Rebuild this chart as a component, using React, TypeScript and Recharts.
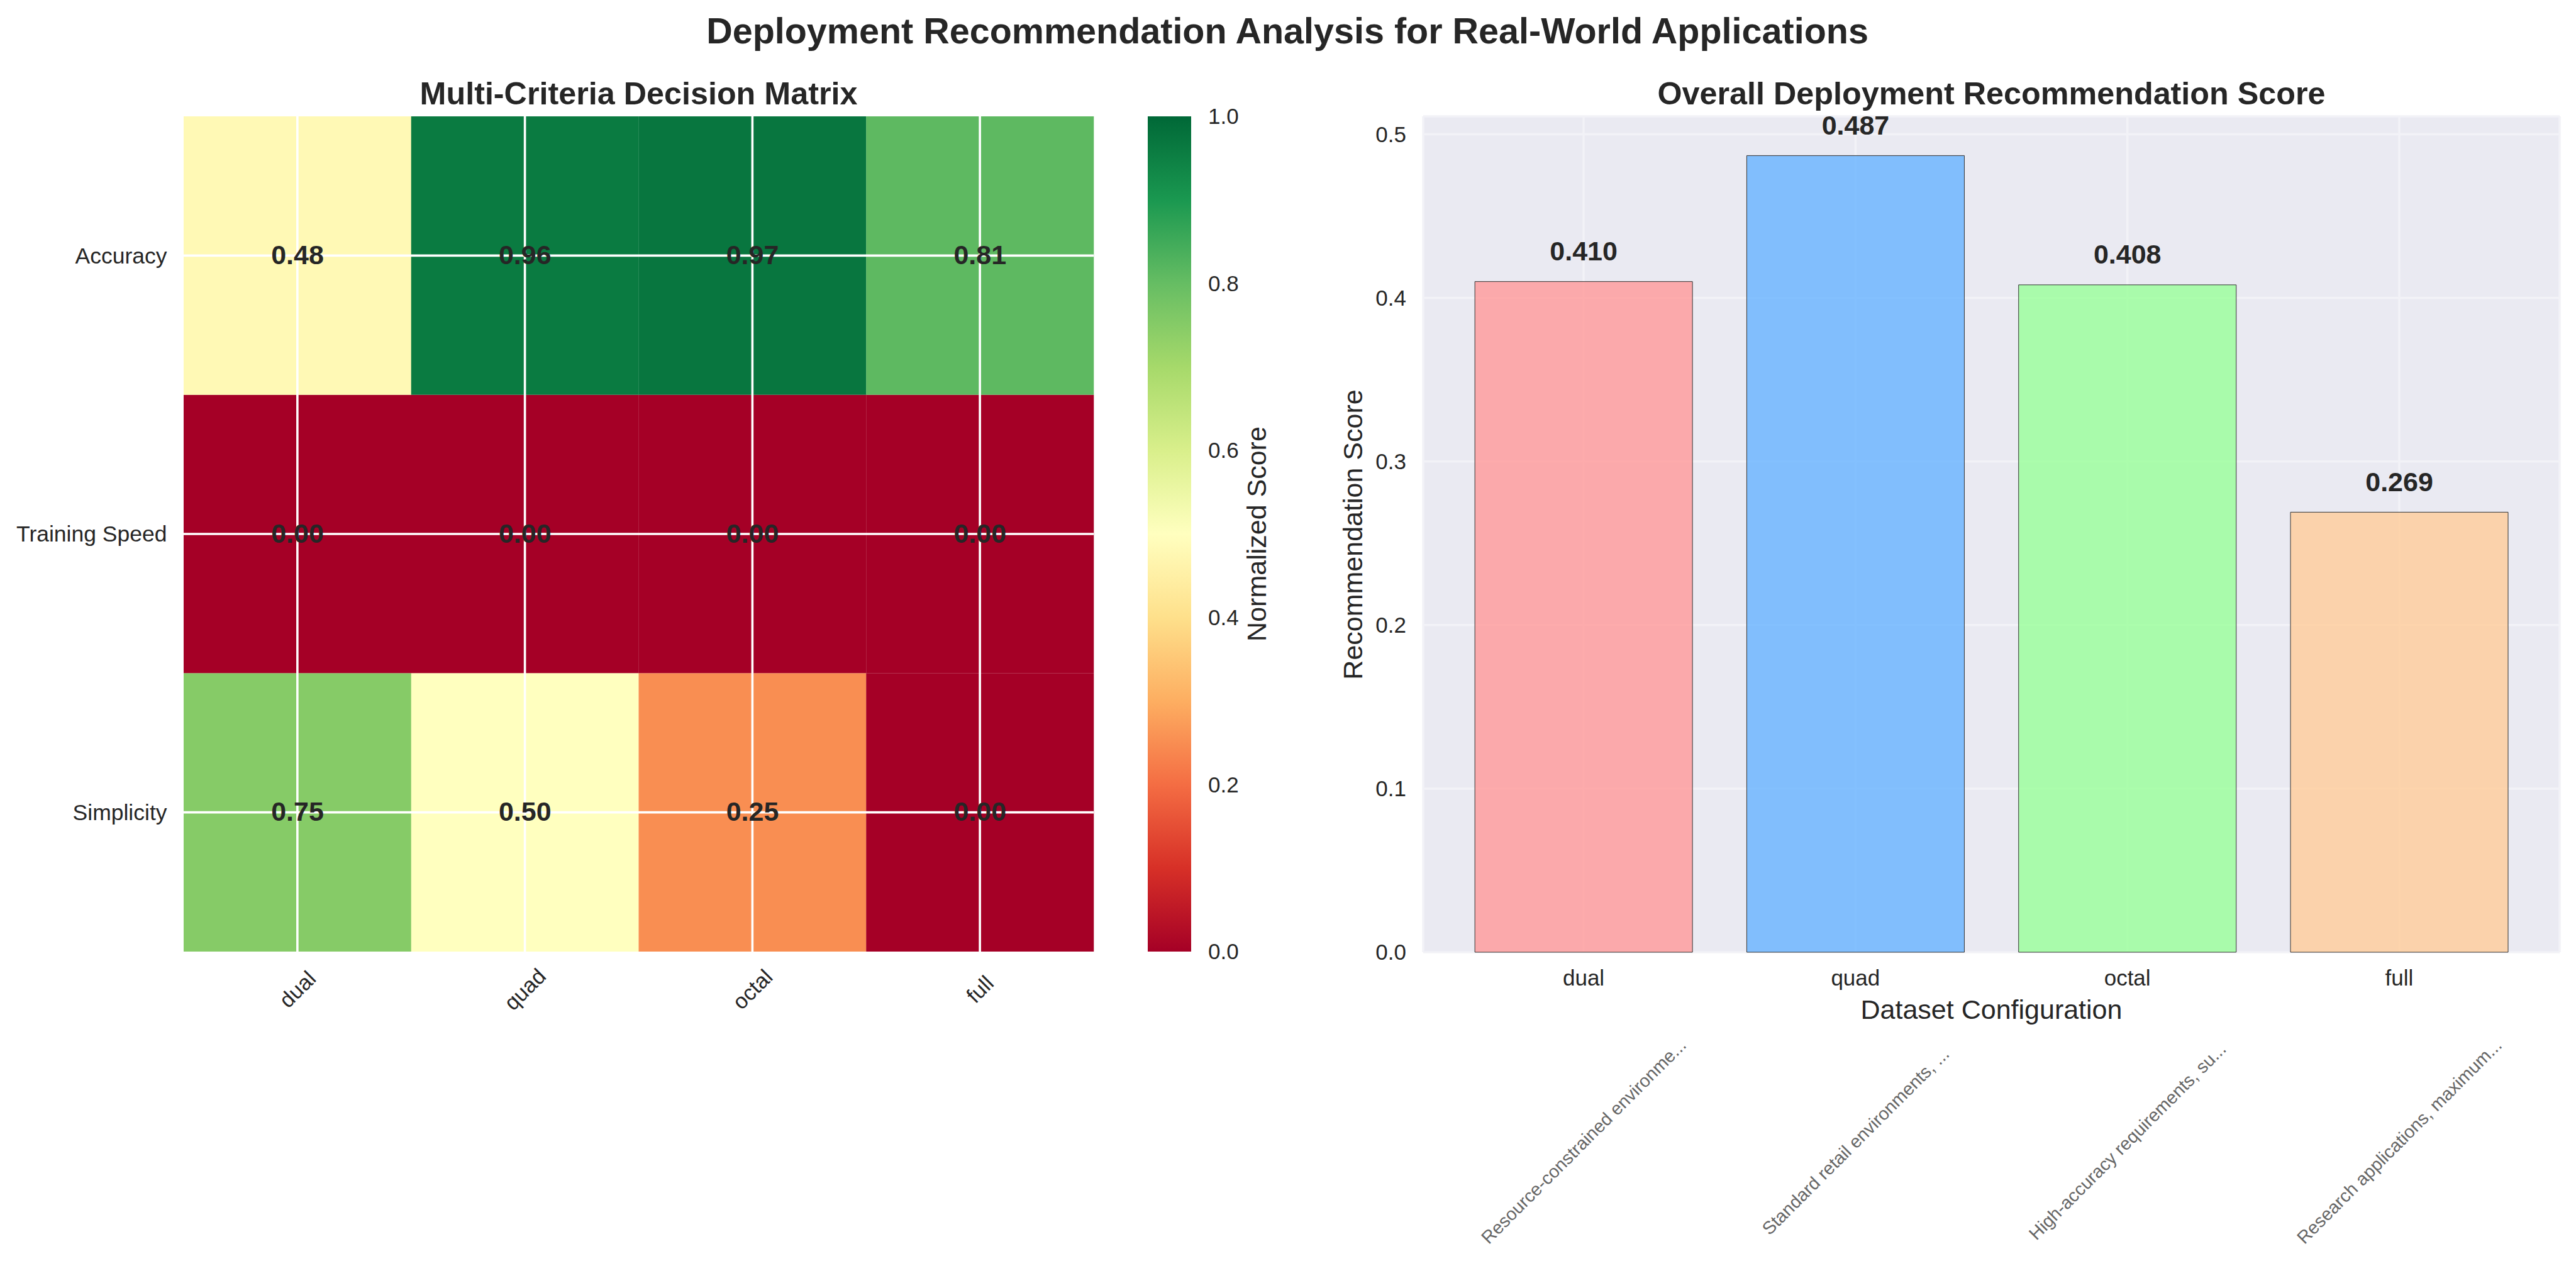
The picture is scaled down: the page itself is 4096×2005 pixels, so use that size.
import React from 'react';
import { BarChart, Bar, XAxis, YAxis, CartesianGrid, ReferenceLine, LabelList, Cell } from 'recharts';

const CONFIGS = ['dual', 'quad', 'octal', 'full'];
const CRITERIA = ['Accuracy', 'Training Speed', 'Simplicity'];
const ACCURACY = [0.48, 0.96, 0.97, 0.81];
const TRAINING_SPEED = [0.0, 0.0, 0.0, 0.0];
const SIMPLICITY = [0.75, 0.5, 0.25, 0.0];
const SCORES = [0.41, 0.487, 0.408, 0.269];
const USE_CASES = [
  'Resource-constrained environme...',
  'Standard retail environments, ...',
  'High-accuracy requirements, su...',
  'Research applications, maximum...',
];
const BAR_COLORS = ['#ff9999', '#66b3ff', '#99ff99', '#ffcc99'];
const SCORE_TICKS = [0, 0.1, 0.2, 0.3, 0.4, 0.5];
const SCORE_MAX = 0.511;
const CBAR_TICKS = [0, 0.2, 0.4, 0.6, 0.8, 1.0];
const ROW_TICKS = [2.5, 1.5, 0.5]; // row centres for Accuracy, Training Speed, Simplicity

const MATRIX = [ACCURACY, TRAINING_SPEED, SIMPLICITY];

const FONT = '"Liberation Sans", Arial, Helvetica, sans-serif';
const INK = '#262626';
const RDYLGN = ['#a50026', '#d73027', '#f46d43', '#fdae61', '#fee08b', '#ffffbf',
  '#d9ef8b', '#a6d96a', '#66bd63', '#1a9850', '#006837'];

const rgb = (h: string) => [1, 3, 5].map(k => parseInt(h.slice(k, k + 2), 16));
function rdylgn(v: number) {
  const t = Math.max(0, Math.min(1, v)) * 10;
  const i = Math.min(9, Math.floor(t));
  const f = t - i;
  const a = rgb(RDYLGN[i]), b = rgb(RDYLGN[i + 1]);
  return `rgb(${a.map((c, k) => Math.round(c + (b[k] - c) * f)).join(',')})`;
}

function Heatmap() {
  const data = CONFIGS.map(name => {
    const row: Record<string, string | number> = { name };
    CRITERIA.forEach((_, r) => { row[`cell${r}`] = 1; });
    return row;
  });
  return (
    <div style={{ position: 'absolute', left: 0, top: 0 }}>
      <BarChart width={1760} height={1700} data={data} barCategoryGap={0} barGap={0}
        margin={{ top: 185, right: 21, bottom: 0, left: 0 }}>
        <XAxis dataKey="name" height={187} axisLine={false} tickLine={false} interval={0}
          tick={(p: any) => (
            <text x={p.x} y={1573} transform={`rotate(-45, ${p.x}, 1573)`} textAnchor="middle"
              dominantBaseline="central" fontFamily={FONT} fontSize={34.5} fill={INK}>
              {p.payload.value}
            </text>
          )} />
        <YAxis type="number" width={292} domain={[0, 3]} ticks={ROW_TICKS} axisLine={false}
          tickLine={false} interval={0}
          tick={(p: any) => (
            <text x={265.5} y={p.y} dy="0.35em" textAnchor="end" fontFamily={FONT}
              fontSize={35.5} fill={INK}>
              {CRITERIA[ROW_TICKS.indexOf(p.payload.value)]}
            </text>
          )} />
        {[2, 1, 0].map(r => (
          <Bar key={r} dataKey={`cell${r}`} stackId="m" isAnimationActive={false}>
            {CONFIGS.map((c, i) => <Cell key={c} fill={rdylgn(MATRIX[r][i])} />)}
            <LabelList content={(p: any) => (
              <text x={p.x + p.width / 2} y={p.y + p.height / 2} dy="0.32em" textAnchor="middle"
                fontFamily={FONT} fontWeight="bold" fontSize={43} fill={INK}>
                {MATRIX[r][p.index].toFixed(2)}
              </text>
            )} />
          </Bar>
        ))}
        {CONFIGS.map(c => <ReferenceLine key={c} x={c} stroke="#ffffff" strokeWidth={3.6} />)}
        {ROW_TICKS.map(t => <ReferenceLine key={t} y={t} stroke="#ffffff" strokeWidth={3.6} />)}
      </BarChart>
    </div>
  );
}

function ColorBar() {
  return (
    <div style={{ position: 'absolute', left: 1760, top: 0 }}>
      <BarChart width={300} height={1700} data={[{ name: 'cb', v: 1 }]} barCategoryGap={0}
        margin={{ top: 185, right: 0, bottom: 187, left: 65 }}>
        <defs>
          <linearGradient id="rdylgn" x1="0" y1="1" x2="0" y2="0">
            {RDYLGN.map((c, i) => <stop key={c} offset={`${i * 10}%`} stopColor={c} />)}
          </linearGradient>
        </defs>
        <XAxis dataKey="name" hide />
        <YAxis orientation="right" width={166} domain={[0, 1]} ticks={CBAR_TICKS} axisLine={false}
          tickLine={false} interval={0}
          tick={(p: any) => (
            <text x={161} y={p.y} dy="0.35em" textAnchor="start" fontFamily={FONT}
              fontSize={35} fill={INK}>
              {p.payload.value.toFixed(1)}
            </text>
          )} />
        <Bar dataKey="v" fill="url(#rdylgn)" isAnimationActive={false} />
      </BarChart>
    </div>
  );
}

function ScoreChart() {
  const data = CONFIGS.map((name, i) => ({ name, score: SCORES[i] }));
  return (
    <div style={{ position: 'absolute', left: 1950, top: 0 }}>
      <BarChart width={2146} height={2005} data={data} barCategoryGap="10%"
        margin={{ top: 185, right: 26, bottom: 0, left: 0 }}>
        <CartesianGrid fill="#eaeaf2" stroke="#f2f2f7" strokeWidth={3.5} />
        <XAxis dataKey="name" height={491} axisLine={false} tickLine={false} interval={0}
          padding={{ left: 38.9, right: 38.9 }}
          tick={(p: any) => (
            <g>
              <text x={p.x} y={1567} textAnchor="middle" fontFamily={FONT} fontSize={35} fill={INK}>
                {p.payload.value}
              </text>
              <text x={p.x} y={1814.5} transform={`rotate(-45, ${p.x}, 1814.5)`} textAnchor="middle"
                dominantBaseline="central" fontFamily={FONT} fontSize={28.7} fill="#666666">
                {USE_CASES[p.index]}
              </text>
            </g>
          )} />
        <YAxis width={313} domain={[0, SCORE_MAX]} ticks={SCORE_TICKS} axisLine={false}
          tickLine={false} interval={0}
          tick={(p: any) => (
            <text x={286} y={p.y} dy="0.35em" textAnchor="end" fontFamily={FONT}
              fontSize={35} fill={INK}>
              {p.payload.value.toFixed(1)}
            </text>
          )} />
        <Bar dataKey="score" stroke="#333333" strokeWidth={1} isAnimationActive={false}>
          {BAR_COLORS.map(c => <Cell key={c} fill={c} fillOpacity={0.8} />)}
          <LabelList content={(p: any) => (
            <text x={p.x + p.width / 2} y={p.y - 33.6} textAnchor="middle" fontFamily={FONT}
              fontWeight="bold" fontSize={43} fill={INK}>
              {SCORES[p.index].toFixed(3)}
            </text>
          )} />
        </Bar>
      </BarChart>
    </div>
  );
}

export default function App() {
  return (
    <div style={{ position: 'absolute', left: 0, top: 0, width: 4096, height: 2005, background: '#fff', fontFamily: FONT }}>
      <Heatmap />
      <ColorBar />
      <ScoreChart />
      <svg width={4096} height={2005} style={{ position: 'absolute', left: 0, top: 0, pointerEvents: 'none' }}>
        <g fontFamily={FONT} fill={INK}>
          <text x={2047} y={69} textAnchor="middle" fontSize={57.5} fontWeight="bold">
            Deployment Recommendation Analysis for Real-World Applications
          </text>
          <text x={1015.5} y={166.4} textAnchor="middle" fontSize={50.3} fontWeight="bold">
            Multi-Criteria Decision Matrix
          </text>
          <text x={3166.5} y={166.4} textAnchor="middle" fontSize={50.3} fontWeight="bold">
            Overall Deployment Recommendation Score
          </text>
          <text x={1998} y={849} transform="rotate(-90, 1998, 849)" textAnchor="middle"
            dominantBaseline="central" fontSize={43}>
            Normalized Score
          </text>
          <text x={2151} y={850} transform="rotate(-90, 2151, 850)" textAnchor="middle"
            dominantBaseline="central" fontSize={43}>
            Recommendation Score
          </text>
          <text x={3166.5} y={1620} textAnchor="middle" fontSize={43}>
            Dataset Configuration
          </text>
        </g>
      </svg>
    </div>
  );
}
